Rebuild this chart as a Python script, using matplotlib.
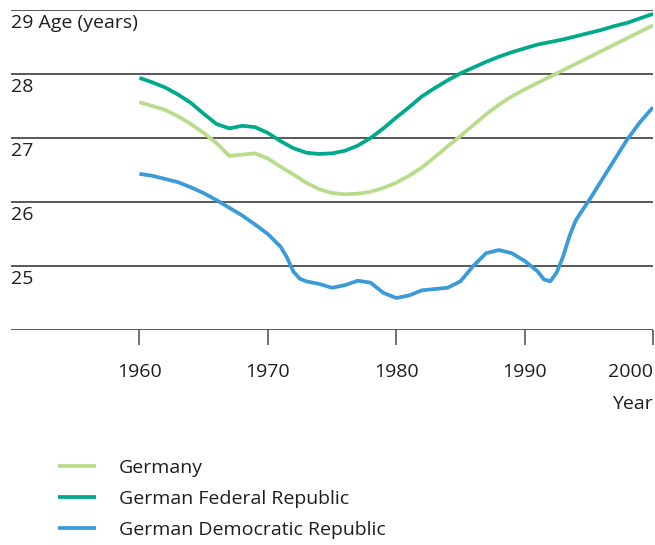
import numpy as np
import matplotlib.pyplot as plt

plt.rcParams['font.family'] = ['Open Sans', 'DejaVu Sans']

years = np.arange(1960, 2001)

germany = [27.56, 27.50, 27.44, 27.34, 27.22, 27.08, 26.92, 26.72, 26.74, 26.76,
           26.68, 26.55, 26.43, 26.30, 26.20, 26.14, 26.12, 26.13, 26.16, 26.22,
           26.30, 26.41, 26.54, 26.70, 26.87, 27.03, 27.20, 27.37, 27.52, 27.65,
           27.76, 27.86, 27.96, 28.06, 28.16, 28.26, 28.36, 28.46, 28.56, 28.66,
           28.76]

frg = [27.94, 27.87, 27.79, 27.68, 27.55, 27.38, 27.22, 27.15, 27.19, 27.17,
       27.08, 26.95, 26.84, 26.77, 26.75, 26.76, 26.80, 26.88, 27.00, 27.15,
       27.32, 27.48, 27.65, 27.78, 27.90, 28.01, 28.10, 28.19, 28.27, 28.34,
       28.40, 28.46, 28.50, 28.54, 28.59, 28.64, 28.69, 28.75, 28.80, 28.87,
       28.94]

# GDR read a bit finer around the sharp bends
gdr_years = [1960, 1961, 1962, 1963, 1964, 1965, 1966, 1967, 1968, 1969,
             1970, 1971, 1971.5, 1972, 1972.5, 1973, 1974, 1975, 1976, 1977,
             1978, 1978.5, 1979, 1980, 1981, 1982, 1983, 1984, 1985, 1986,
             1987, 1988, 1989, 1990, 1991, 1991.5, 1992, 1992.5, 1993, 1993.5,
             1994, 1995, 1996, 1997, 1998, 1999, 2000]
gdr = [26.44, 26.41, 26.36, 26.31, 26.23, 26.14, 26.03, 25.91, 25.79, 25.65,
       25.50, 25.30, 25.13, 24.91, 24.80, 24.76, 24.72, 24.66, 24.70, 24.77,
       24.74, 24.66, 24.58, 24.50, 24.54, 24.62, 24.64, 24.66, 24.76, 25.00,
       25.20, 25.25, 25.20, 25.08, 24.92, 24.79, 24.76, 24.90, 25.15, 25.47,
       25.72, 26.02, 26.34, 26.66, 26.98, 27.25, 27.48]

names = ['Germany', 'German Federal Republic', 'German Democratic Republic']
colors = ['#b9dc8b', '#00a98b', '#3a9bd8']

y_ticks = [24, 25, 26, 27, 28, 29]
y_labels = ['', '25', '26', '27', '28', '29 Age (years)']
x_ticks = [1960, 1970, 1980, 1990, 2000]

fs = 14
txt = '#1e1e1e'

fig = plt.figure(figsize=(6.55, 5.45), dpi=100)
ax = fig.add_axes([11 / 655, 1 - 330 / 545, 642 / 655, 320 / 545])

for xs, s, name, c in zip([years, years, gdr_years], [germany, frg, gdr],
                          names, colors):
    ax.plot(xs, s, color=c, lw=2.7, label=name,
            solid_capstyle='butt', solid_joinstyle='round')

for v, lab in zip(y_ticks, y_labels):
    ax.axhline(v, color='#4a4a4a', lw=1.3, zorder=0)
    if lab:
        ax.annotate(lab, xy=(0, v), xycoords=('axes fraction', 'data'),
                    xytext=(0, -3), textcoords='offset points',
                    ha='left', va='top', fontsize=fs, color=txt)

ax.set_xlim(1950, 2000)
ax.set_ylim(24, 29)
ax.set_xticks(x_ticks)
ax.set_xticklabels([str(x) for x in x_ticks], fontsize=fs, color=txt)
ax.get_xticklabels()[-1].set_ha('right')
ax.tick_params(axis='x', length=11, width=1.1, color='#4a4a4a', pad=12.5)
ax.set_yticks([])
for sp in ax.spines.values():
    sp.set_visible(False)

ax.annotate('Year', xy=(1, 0), xycoords='axes fraction', xytext=(0, -53),
            textcoords='offset points', ha='right', va='center',
            fontsize=fs, color=txt)

fig.legend(loc='upper left', bbox_to_anchor=(58 / 655, 1 - 459 / 545),
           frameon=False, fontsize=fs, handlelength=1.96,
           handletextpad=1.18, labelspacing=0.66, borderaxespad=0,
           borderpad=0, labelcolor=txt)

fig.savefig('out.png', dpi=100)
